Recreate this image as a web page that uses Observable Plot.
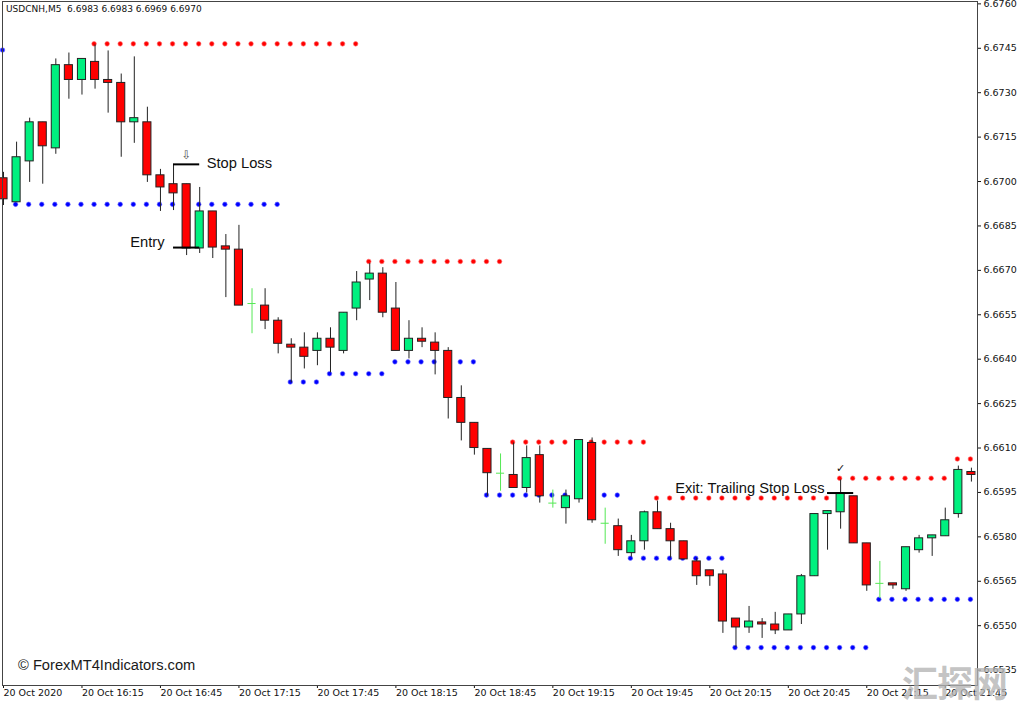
<!DOCTYPE html>
<html>
<head>
<meta charset="utf-8">
<script src="https://cdn.jsdelivr.net/npm/d3@7"></script>
<script src="https://cdn.jsdelivr.net/npm/@observablehq/plot@0.6"></script>
<style>
  body { margin: 0; background: #fff; }
  #wrap { position: relative; width: 1024px; height: 705px; overflow: hidden; background: #fff; }
  #wrap svg { position: absolute; left: 0; top: 0; }
  .hdr { position: absolute; left: 6px; top: 4px; font: 9px "DejaVu Sans"; white-space: pre; color: #111; line-height: 11px; }
  .copy { position: absolute; left: 18px; top: 657px; font: 14.7px "Liberation Sans"; color: #1a1a1a; line-height: 17px; }
  .wm { position: absolute; left: 902px; top: 656px; font: bold 36px "Noto Sans CJK SC"; color: rgba(180,180,180,0.8); line-height: 50px; letter-spacing: -1px; }
</style>
</head>
<body>
<div id="wrap">
  <div class="hdr">USDCNH,M5  6.6983 6.6983 6.6969 6.6970</div>
  <div class="copy">© ForexMT4Indicators.com</div>
</div>
<script>
// ---- Data (M5 bars, 20 Oct 2020 15:45 → 21:55) ----
const opens = [6.67011,6.66930,6.67068,6.67200,6.67112,6.67393,6.67343,6.67404,6.67343,6.67333,
  6.67200,6.67200,6.67021,6.66991,6.66991,6.66774,6.66899,6.66781,6.66770,6.66588,
  6.66581,6.66530,6.66449,6.66439,6.66428,6.66469,6.66428,6.66571,6.66669,6.66689,
  6.66571,6.66428,6.66469,6.66456,6.66428,6.66269,6.66185,6.66097,6.66015,6.66009,
  6.65965,6.66076,6.65914,6.65897,6.65927,6.66117,6.65846,6.65836,6.65745,6.65785,
  6.65883,6.65826,6.65785,6.65717,6.65687,6.65673,6.65524,6.65494,6.65511,6.65504,
  6.65484,6.65538,6.65667,6.65877,6.65883,6.65937,6.65778,6.65643,6.65643,6.65623,
  6.65755,6.65795,6.65802,6.65877,6.66019];
const highs = [6.67031,6.67133,6.67214,6.67200,6.67414,6.67434,6.67414,6.67461,6.67441,6.67363,
  6.67421,6.67251,6.67041,6.67058,6.66991,6.66980,6.66899,6.66821,6.66852,6.66638,
  6.66638,6.66540,6.66469,6.66489,6.66489,6.66506,6.66557,6.66696,6.66723,6.66709,
  6.66659,6.66530,6.66506,6.66489,6.66439,6.66310,6.66185,6.66097,6.66080,6.66117,
  6.66107,6.66107,6.65958,6.65958,6.66127,6.66134,6.65897,6.65860,6.65805,6.65887,
  6.65921,6.65846,6.65785,6.65728,6.65687,6.65687,6.65524,6.65565,6.65524,6.65545,
  6.65538,6.65673,6.65877,6.65887,6.65992,6.65937,6.65778,6.65717,6.65643,6.65765,
  6.65805,6.65805,6.65897,6.66039,6.66032];
const lows = [6.66919,6.66930,6.66997,6.66991,6.67092,6.67278,6.67292,6.67312,6.67231,6.67082,
  6.67129,6.66997,6.66899,6.66902,6.66750,6.66757,6.66740,6.66608,6.66581,6.66486,
  6.66500,6.66418,6.66320,6.66367,6.66378,6.66354,6.66418,6.66530,6.66598,6.66540,
  6.66428,6.66401,6.66439,6.66347,6.66198,6.66124,6.66076,6.65937,6.65954,6.65965,
  6.65948,6.65914,6.65897,6.65843,6.65914,6.65846,6.65775,6.65734,6.65731,6.65755,
  6.65826,6.65728,6.65724,6.65636,6.65633,6.65474,6.65426,6.65474,6.65457,6.65470,
  6.65484,6.65504,6.65667,6.65755,6.65826,6.65778,6.65616,6.65592,6.65623,6.65616,
  6.65745,6.65734,6.65802,6.65863,6.65985];
const closes = [6.66940,6.67082,6.67200,6.67119,6.67393,6.67343,6.67414,6.67343,6.67333,6.67200,
  6.67214,6.67021,6.66980,6.66960,6.66774,6.66899,6.66777,6.66770,6.66581,6.66588,
  6.66530,6.66452,6.66439,6.66408,6.66469,6.66439,6.66557,6.66659,6.66689,6.66557,
  6.66428,6.66469,6.66459,6.66428,6.66269,6.66185,6.66100,6.66015,6.66015,6.65965,
  6.66066,6.65937,6.65914,6.65937,6.66127,6.65856,6.65846,6.65755,6.65785,6.65883,
  6.65826,6.65785,6.65724,6.65667,6.65667,6.65514,6.65494,6.65514,6.65504,6.65484,
  6.65538,6.65667,6.65877,6.65887,6.65948,6.65778,6.65636,6.65643,6.65636,6.65765,
  6.65795,6.65805,6.65856,6.66026,6.66009];

// Support / resistance dot segments: [firstBar, lastBar, price]
const resistanceSegments = [[7,27,6.67465],[28,38,6.66730],[39,49,6.66120],[50,63,6.65931],[64,72,6.65998],[73,74,6.66063]];
const supportSegments = [[0,0,6.67444],[1,21,6.66923],[22,24,6.66323],[25,29,6.66351],[30,36,6.66391],[37,47,6.65941],[48,55,6.65728],[56,66,6.65426],[67,74,6.65589]];

// Trade annotations
const levelLabels = ["Stop Loss", "Entry", "Exit: Trailing Stop Loss"];
const levelPrices = [6.67058, 6.66777, 6.65948];
const levelFrom = [13, 13, 63];
const levelTo = [15, 15, 65];

// Axis ticks
const xTickBars = [0,6,12,18,24,30,36,42,48,54,60,66,72];
const xTickLabels = ["20 Oct 2020","20 Oct 16:15","20 Oct 16:45","20 Oct 17:15","20 Oct 17:45","20 Oct 18:15",
  "20 Oct 18:45","20 Oct 19:15","20 Oct 19:45","20 Oct 20:15","20 Oct 20:45","20 Oct 21:15","20 Oct 21:45"];
const yTicks = [6.6535,6.6550,6.6565,6.6580,6.6595,6.6610,6.6625,6.6640,6.6655,6.6670,6.6685,6.6700,6.6715,6.6730,6.6745,6.6760];

// ---- Build tables ----
const bars = opens.map((o, i) => ({i, open: o, high: highs[i], low: lows[i], close: closes[i]}));
const isDoji = d => d.open === d.close;
const expand = segs => segs.flatMap(([a, b, p]) => d3.range(a, b + 1).map(i => ({i, p})));
const resPts = expand(resistanceSegments);
const supPts = expand(supportSegments);
const levels = levelLabels.map((label, k) => ({label, price: levelPrices[k], from: levelFrom[k], to: levelTo[k]}));
const sl = levels.filter(d => d.label === "Stop Loss");
const entry = levels.filter(d => d.label === "Entry");
const exit = levels.filter(d => d.label.startsWith("Exit"));

const GREEN = "#00F07F", RED = "#FF0000", DOJI = "#55E855";
const HW = 0.31;
const ANN = {fontFamily: "Liberation Sans", fontSize: 14.7, fill: "#111"};

const chart = Plot.plot({
  width: 1024, height: 705,
  marginLeft: 2, marginRight: 47, marginTop: 1, marginBottom: 20,
  style: {fontFamily: "DejaVu Sans", fontSize: "9.5px", color: "#111", background: "transparent"},
  x: {domain: [-0.0765, 74.465]},
  y: {domain: [6.65298, 6.67608]},
  marks: [
    Plot.axisY({anchor: "right", ticks: yTicks, tickFormat: d => d.toFixed(4), tickSize: 3, tickPadding: 3, label: null}),
    Plot.axisX({ticks: xTickBars, tickFormat: d => xTickLabels[xTickBars.indexOf(d)], textAnchor: "start", tickSize: 3, tickPadding: 1, label: null}),
    Plot.dot(resPts, {x: "i", y: "p", r: 2.3, fill: RED, stroke: "#ff7070", strokeWidth: 0.6, dx: -1}),
    Plot.dot(supPts, {x: "i", y: "p", r: 2.3, fill: "#0000FF", stroke: "#7070ff", strokeWidth: 0.6, dx: -1}),
    Plot.ruleX(bars, {x: "i", y1: "low", y2: "high", stroke: d => isDoji(d) ? DOJI : "#222", strokeWidth: 1}),
    Plot.rect(bars.filter(d => !isDoji(d)), {
      x1: d => d.i - HW, x2: d => d.i + HW, y1: "open", y2: "close",
      fill: d => d.close > d.open ? GREEN : RED, stroke: "#222", strokeWidth: 1
    }),
    Plot.ruleY(bars.filter(isDoji), {y: "open", x1: d => d.i - HW, x2: d => d.i + HW, stroke: DOJI, strokeWidth: 1}),
    Plot.ruleY(levels, {y: "price", x1: "from", x2: "to", stroke: "#000", strokeWidth: 2}),
    Plot.text(sl, {x: "to", y: "price", text: "label", textAnchor: "start", dx: 7, dy: -1, ...ANN}),
    Plot.text(entry, {x: "from", y: "price", text: "label", textAnchor: "end", dx: -9, dy: -5, ...ANN}),
    Plot.text(exit, {x: "from", y: "price", text: "label", textAnchor: "end", dx: -3, dy: -5, ...ANN}),
    Plot.text(sl, {x: d => d.from + 1, y: "price", text: () => "⇩", dy: -9, fontFamily: "DejaVu Sans", fontSize: 12, fill: "#555"}),
    Plot.text(exit, {x: d => d.from + 1, y: () => resistanceSegments[4][2], text: () => "✓", dy: -10, fontFamily: "DejaVu Sans", fontSize: 11, fill: "#111"}),
    Plot.frame({stroke: "#444", strokeWidth: 1})
  ]
});

const wrap = document.getElementById("wrap");
wrap.insertBefore(chart, wrap.firstChild);
const wm = document.createElement("div");
wm.className = "wm";
wm.textContent = "汇探网";
wrap.appendChild(wm);
</script>
</body>
</html>
